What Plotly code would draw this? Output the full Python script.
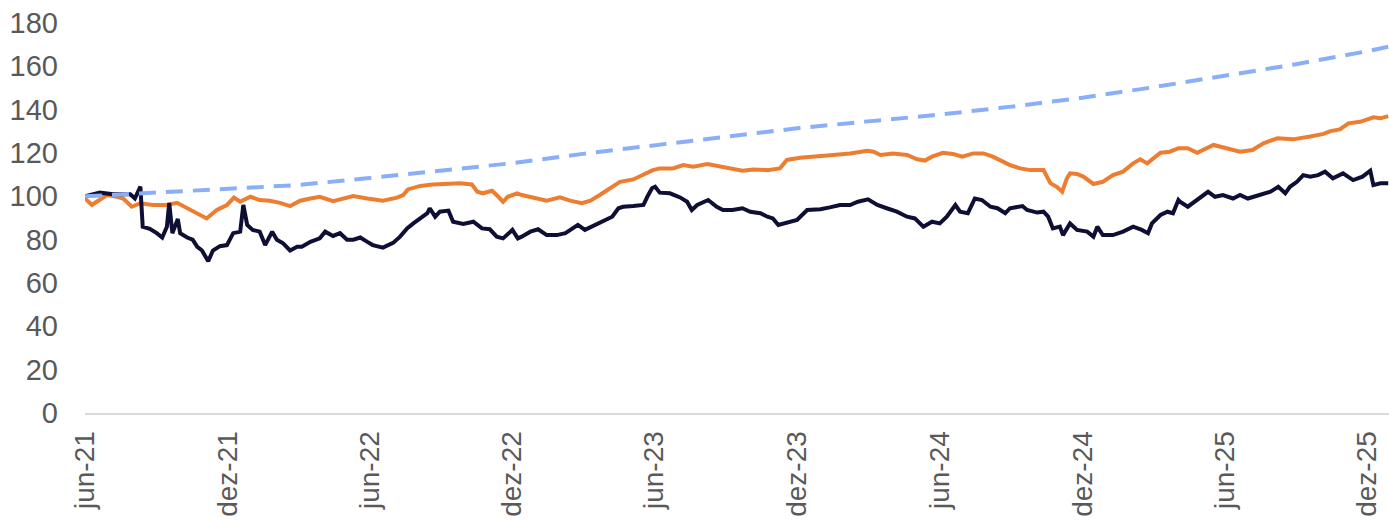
import plotly.graph_objects as go
import pandas as pd

start = pd.Timestamp("2021-06-01")

# day offsets from 2021-06-01 and values
navy_days = [0, 19, 36, 58, 64, 71, 74, 83, 92, 99, 105, 108, 112, 119, 122, 131, 138, 144, 150, 158,
             164, 173, 182, 190, 199, 203, 208, 215, 224, 231, 240, 246, 254, 263, 272, 278, 289, 301,
             308, 318, 327, 336, 344, 353, 362, 369, 382, 395, 404, 413, 421, 430, 439, 442, 449, 455,
             466, 472, 485, 498, 509, 519, 528, 536, 548, 555, 560, 571, 581, 592, 605, 616, 625, 632,
             641, 651, 664, 676, 684, 690, 703, 716, 721, 727, 731, 737, 750, 763, 772, 778, 785, 799,
             810, 818, 830, 843, 853, 866, 875, 882, 889, 900, 913, 926, 943, 955, 968, 981, 991, 1004,
             1016, 1028, 1041, 1054, 1064, 1075, 1086, 1096, 1105, 1116, 1122, 1132, 1141, 1150, 1161,
             1170, 1180, 1186, 1195, 1202, 1208, 1221, 1229, 1235, 1241, 1250, 1254, 1263, 1272, 1285,
             1293, 1298, 1305, 1318, 1331, 1344, 1355, 1363, 1368, 1379, 1388, 1395, 1402, 1404, 1414,
             1430, 1440, 1449, 1459, 1472, 1481, 1491, 1507, 1520, 1530, 1539, 1545, 1554, 1562, 1571,
             1581, 1590, 1600, 1613, 1626, 1638, 1648, 1652, 1661, 1671]
navy_vals = [100, 101.7, 101, 101, 99, 104.5, 86, 85, 83, 81, 86, 97, 83, 89.5, 83, 81, 80, 76.7, 75, 70,
             75, 77, 77.5, 83, 83.7, 96, 86.8, 84.5, 83.7, 77.5, 83.7, 80, 78.3, 75, 76.7, 76.7, 79, 80.6,
             83.7, 81.7, 83, 80, 80, 81, 79, 77.5, 76.3, 78.5, 81.4, 85.2, 87.5, 89.8, 92.2, 94.5, 90.6, 92.9,
             93.4, 88.3, 87.2, 88.3, 85.2, 84.8, 81.4, 80.6, 84.5, 80.6, 81.4, 83.7, 84.8, 82.1, 82.1, 83, 85.2, 86.8,
             84.5, 86.3, 88.3, 90.6, 94.5, 95.2, 95.5, 96, 99.8, 103.7, 104.4, 101.7, 101.4, 99.5, 97.5, 93.7, 96, 98.3,
             95.2, 93.7, 93.7, 94.5, 92.9, 92.2, 90.6, 89.8, 86.8, 87.8, 89.1, 93.7, 94, 94.9, 96, 96, 97.5, 98.6,
             96, 94.5, 92.9, 90.6, 89.8, 86, 88.3, 87.5, 90.6, 96, 92.9, 92.2, 99, 98.3, 95.2,
             94.5, 92.2, 94.5, 95.2, 95.5, 93.7, 92.5, 92.9, 90.6, 85.2, 86, 82.1, 87.5, 84.5, 83.7,
             81.4, 86, 82.1, 82.1, 83.7, 86, 84.5, 83, 87.5, 91.4, 92.9, 92.2, 98.3, 97.5, 95.2,
             99.8, 102.1, 99.8, 100.6, 99, 100.6, 99, 100.6, 102.1, 104.4, 101.4, 104.4, 106.7, 109.8, 109.1,
             109.8, 111.4, 108.3, 110.6, 107.5, 109.1, 111.8, 105.2, 106, 106]

orange_days = [0, 9, 15, 28, 41, 49, 60, 71, 87, 105, 118, 131, 144, 156, 169, 182, 191, 199, 212, 224,
               237, 250, 263, 276, 289, 301, 318, 331, 344, 362, 382, 400, 408, 414, 430, 446, 464, 481,
               496, 503, 510, 522, 530, 536, 542, 554, 560, 575, 592, 609, 622, 637, 648, 660, 673, 686,
               703, 716, 728, 737, 754, 767, 780, 798, 814, 827, 843, 857, 875, 891, 900, 917, 939, 959,
               981, 1003, 1011, 1020, 1036, 1054, 1067, 1077, 1086, 1100, 1113, 1125, 1139, 1152, 1164,
               1177, 1186, 1199, 1212, 1229, 1238, 1246, 1253, 1259, 1263, 1272, 1280, 1293, 1305, 1318,
               1331, 1344, 1353, 1362, 1370, 1379, 1391, 1402, 1414, 1426, 1447, 1465, 1481, 1497, 1511,
               1529, 1549, 1571, 1588, 1597, 1609, 1620, 1635, 1652, 1661, 1671]
orange_vals = [99, 96, 97.5, 100.6, 99.8, 99, 95.2, 96.8, 96, 96, 97, 94.5, 92.2, 89.8, 93.7, 96, 99.4, 97.5, 99.8, 98.3,
               98, 97, 95.5, 98, 99, 99.8, 97.8, 99, 100.1, 99, 98, 99.4, 100.6, 103.2, 104.8, 105.5, 105.7, 106,
               105.5, 102.1, 101.4, 102.6, 99.8, 97.5, 99.8, 101.4, 100.6, 99.5, 98, 99.5, 98, 96.8, 98, 100.6, 103.7, 106.7,
               107.8, 109.8, 112.1, 112.9, 112.9, 114.4, 113.7, 114.9, 113.7, 112.9, 111.8, 112.4, 112.1, 112.9, 116.8, 117.8, 118.3, 119.1,
               119.8, 121, 120.6, 119.1, 119.8, 119.1, 117.1, 116.5, 118.3, 120.1, 119.5, 118.3, 119.8, 119.8, 118.3,
               116, 114.4, 112.9, 112.1, 112.1, 106, 104.4, 102.1, 108.3, 110.6, 110.3, 109.1, 105.7, 106.7, 109.8,
               111.4, 115.2, 117.1, 115.2, 117.5, 120.1, 120.6, 122.2, 122.2, 120.1, 123.7, 122.2, 120.6, 121.4, 124.5,
               126.8, 126.3, 127.6, 128.8, 130.1, 130.9, 133.7, 134.4, 136.5, 136, 137]

bench_dates = ["2021-06-01", "2021-09-01", "2021-12-01", "2022-03-01", "2022-06-01", "2022-09-01",
               "2022-12-01", "2023-03-01", "2023-06-01", "2023-09-01", "2023-12-01", "2024-03-01",
               "2024-06-01", "2024-09-01", "2024-12-01", "2025-03-01", "2025-06-01", "2025-09-01",
               "2025-12-01", "2025-12-28"]
bench_vals = [100, 101.6, 103.4, 105.2, 108.5, 111.8, 115.3, 119.6, 123.6, 127.5, 131.4, 134.6,
              137.7, 141.4, 145.5, 150.3, 155.5, 161, 167, 169]

tick_dates = ["2021-06-01", "2021-12-01", "2022-06-01", "2022-12-01", "2023-06-01", "2023-12-01",
              "2024-06-01", "2024-12-01", "2025-06-01", "2025-12-01"]
tick_labels = ["jun-21", "dez-21", "jun-22", "dez-22", "jun-23", "dez-23",
               "jun-24", "dez-24", "jun-25", "dez-25"]

navy_x = [start + pd.Timedelta(days=d) for d in navy_days]
orange_x = [start + pd.Timedelta(days=d) for d in orange_days]

fig = go.Figure()
fig.add_trace(go.Scatter(x=orange_x, y=orange_vals, mode="lines",
                         line=dict(color="#ED7D31", width=4), showlegend=False))
fig.add_trace(go.Scatter(x=navy_x, y=navy_vals, mode="lines",
                         line=dict(color="#0F0F35", width=4), showlegend=False))
fig.add_trace(go.Scatter(x=bench_dates, y=bench_vals, mode="lines",
                         line=dict(color="#8AAEF8", width=4, dash="17px,10px"), showlegend=False))

font = dict(family="Liberation Sans, Arial, sans-serif", size=29, color="#595959")
xfont = dict(family="Liberation Sans, Arial, sans-serif", size=28, color="#595959")
fig.update_layout(
    width=1389, height=520,
    margin=dict(l=85, r=0, t=23, b=107, autoexpand=False),
    paper_bgcolor="white", plot_bgcolor="white",
    font=font,
    xaxis=dict(type="date", range=["2021-06-01", "2025-12-29"], automargin=False,
               tickmode="array", tickvals=tick_dates, ticktext=tick_labels,
               tickangle=-90, showgrid=False, zeroline=False,
               showline=True, linecolor="#D9D9D9", linewidth=2,
               ticks="", ticklabelstandoff=5, tickfont=xfont),
    yaxis=dict(range=[0, 180], tickmode="array", tickvals=list(range(0, 181, 20)),
               automargin=False,
               showgrid=False, zeroline=False, showline=False, ticks="",
               ticklabelstandoff=26, tickfont=font),
)
fig.write_html("out.html", config={"displayModeBar": False},
               post_script="document.body.style.margin='0';document.body.style.overflow='hidden';")
